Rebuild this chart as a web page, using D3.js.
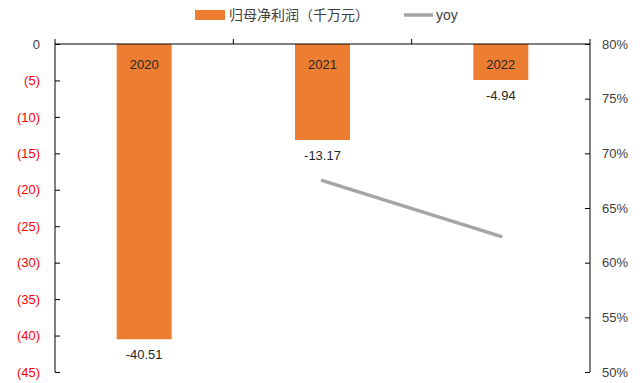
<!DOCTYPE html>
<html>
<head>
<meta charset="utf-8">
<script src="https://cdn.jsdelivr.net/npm/d3@7"></script>
<style>
  body { margin: 0; background: #fff; }
  text { font-family: "Liberation Sans", "Noto Sans CJK SC", sans-serif; }
</style>
</head>
<body>
<svg id="chart"></svg>
<script>
// data
let years = ["2020", "2021", "2022"];
let profit = [-40.51, -13.17, -4.94];        // 归母净利润（千万元）
let yoy = [null, 67.5, 62.4];                 // %
let leftTicks = [0, -5, -10, -15, -20, -25, -30, -35, -40, -45];
let rightTicks = [80, 75, 70, 65, 60, 55, 50];

let svgWidth = 642,
    svgHeight = 383;

let svg = d3.select("#chart")
    .attr("width", svgWidth)
    .attr("height", svgHeight);

let plotL = 55, plotR = 590, plotT = 44, plotB = 372;
let orange = "#ED7D31", grey = "#A5A5A5", axisCol = "#000";

let x = d3.scaleBand().domain(years).range([plotL, plotR]).paddingInner(0).paddingOuter(0);
let y = d3.scaleLinear().domain([0, -45]).range([plotT, plotB]);
let y2 = d3.scaleLinear().domain([50, 80]).range([plotB, plotT]);

let barW = 55;

// bars
svg.append("g").selectAll("rect")
    .data(years).enter()
    .append("rect")
        .attr("x", (d) => x(d) + x.bandwidth() / 2 - barW / 2)
        .attr("y", y(0))
        .attr("width", barW)
        .attr("height", (d, i) => y(profit[i]) - y(0))
        .attr("fill", orange);

// left axis
let yAxis = d3.axisRight(y)
    .tickValues(leftTicks)
    .tickSize(5)
    .tickFormat(d => d === 0 ? "0" : "(" + Math.abs(d) + ")");
let gl = svg.append("g").attr("transform", "translate(" + plotL + ",0)").call(yAxis);
gl.select(".domain").attr("d", "M0," + plotT + "V" + plotB).attr("stroke", axisCol);
gl.selectAll(".tick line").attr("stroke", axisCol);
gl.selectAll(".tick text")
    .attr("x", -15)
    .attr("text-anchor", "end")
    .attr("font-size", 13)
    .attr("fill", d => d < 0 ? "#FF0000" : "#404040");

// right axis
let y2Axis = d3.axisLeft(y2)
    .tickValues(rightTicks)
    .tickSize(5)
    .tickFormat(d => d + "%");
let gr = svg.append("g").attr("transform", "translate(" + plotR + ",0)").call(y2Axis);
gr.select(".domain").attr("d", "M0," + plotT + "V" + plotB).attr("stroke", axisCol);
gr.selectAll(".tick line").attr("stroke", axisCol);
gr.selectAll(".tick text")
    .attr("x", 12)
    .attr("text-anchor", "start")
    .attr("font-size", 13)
    .attr("fill", "#404040");

// category axis at zero, ticks pointing up at band boundaries
let gx = svg.append("g");
gx.append("line")
    .attr("x1", plotL).attr("x2", plotR)
    .attr("y1", y(0)).attr("y2", y(0))
    .attr("stroke", axisCol);
let bounds = years.map(d => x(d)).concat([plotR]);
gx.selectAll("line.tk")
    .data(bounds).enter()
    .append("line")
        .attr("class", "tk")
        .attr("x1", d => d).attr("x2", d => d)
        .attr("y1", y(0)).attr("y2", y(0) - 5)
        .attr("stroke", axisCol);

// year labels inside bars
svg.append("g").selectAll("text")
    .data(years).enter()
    .append("text")
        .attr("x", d => x(d) + x.bandwidth() / 2)
        .attr("y", y(0) + 25)
        .attr("text-anchor", "middle")
        .attr("font-size", 13)
        .attr("fill", "#262626")
        .text(d => d);

// value labels under bars
svg.append("g").selectAll("text")
    .data(years).enter()
    .append("text")
        .attr("x", d => x(d) + x.bandwidth() / 2)
        .attr("y", (d, i) => y(profit[i]) + 20)
        .attr("text-anchor", "middle")
        .attr("font-size", 13)
        .attr("fill", "#262626")
        .text((d, i) => profit[i].toFixed(2));

// yoy line
let line = d3.line()
    .defined(d => d.v != null)
    .x(d => x(d.year) + x.bandwidth() / 2)
    .y(d => y2(d.v));
svg.append("path")
    .datum(years.map((d, i) => ({year: d, v: yoy[i]})))
    .attr("d", line)
    .attr("fill", "none")
    .attr("stroke", grey)
    .attr("stroke-width", 3.5)
    .attr("stroke-linecap", "round");

// legend
let lg = svg.append("g");
lg.append("rect").attr("x", 195).attr("y", 10).attr("width", 30).attr("height", 10).attr("fill", orange);
lg.append("text").attr("x", 229).attr("y", 20).attr("font-size", 14).attr("fill", "#404040")
    .attr("font-family", "'Noto Sans CJK SC', sans-serif")
    .text("归母净利润（千万元）");
lg.append("line").attr("x1", 404).attr("x2", 433).attr("y1", 15).attr("y2", 15)
    .attr("stroke", grey).attr("stroke-width", 3.5);
lg.append("text").attr("x", 436).attr("y", 20).attr("font-size", 14).attr("fill", "#404040").text("yoy");
</script>
</body>
</html>
